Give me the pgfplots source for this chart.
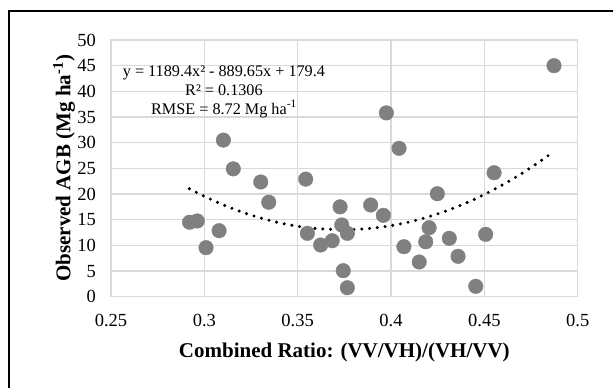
\documentclass[border=0pt]{standalone}
\usepackage{fontspec}
\setmainfont{Liberation Serif}
\usepackage{pgfplots}
\pgfplotsset{compat=1.18}
\usetikzlibrary{calc}
\definecolor{mk}{RGB}{128,128,128}
\definecolor{gr}{RGB}{217,217,217}
\begin{document}
\begin{tikzpicture}[x=1bp,y=1bp]
\begin{axis}[
  scale only axis, width=466.7bp, height=256.7bp,
  xmin=0.25, xmax=0.5, ymin=0, ymax=50,
  xtick={0.25,0.3,0.35,0.4,0.45,0.5},
  xticklabels={0.25,0.3,0.35,0.4,0.45,0.5},
  ytick={0,5,10,15,20,25,30,35,40,45,50},
  yticklabels={0,5,10,15,20,25,30,35,40,45,50},
  major tick length=0pt,
  grid=major,
  major grid style={gr, line width=1.2bp},
  axis line style={gr, line width=1.2bp},
  /pgf/number format/assume math mode=true,
  ticklabel style={font=\fontsize{18.5bp}{22bp}\selectfont, inner sep=0pt},
  xticklabel style={anchor=base, yshift=-29.6bp},
  yticklabel style={anchor=east, xshift=-15bp},
  xlabel={\textbf{Combined Ratio: (VV/VH)/(VH/VV)}},
  ylabel={\textbf{Observed AGB (Mg ha\textsuperscript{-1})}},
  label style={font=\fontsize{21bp}{24bp}\selectfont, inner sep=0pt},
  xlabel style={at={(axis description cs:0.5,-0.2349)}, anchor=base},
  ylabel style={at={(axis description cs:-0.0872,0.5)}, anchor=base},
  clip=false,
]
\addplot[only marks, mark=*, mark size=7.3bp, mark options={draw=mk, fill=mk}] coordinates {
(0.2921,14.5) (0.2962,14.75) (0.3009,9.55) (0.3079,12.86) (0.3102,30.5)
(0.3155,24.9) (0.3302,22.35) (0.3345,18.4) (0.3543,22.9) (0.3552,12.35)
(0.3623,10.07) (0.3685,10.9) (0.3727,17.5) (0.3736,13.97) (0.3766,12.35)
(0.3744,5.07) (0.3766,1.75) (0.3891,17.86) (0.3959,15.85) (0.3975,35.8)
(0.4043,28.9) (0.4069,9.74) (0.4151,6.76) (0.4186,10.7) (0.4204,13.44)
(0.4248,20.06) (0.4312,11.37) (0.4359,7.87) (0.4454,2.02) (0.4507,12.15)
(0.4552,24.15) (0.4873,45.0)
};
\addplot[smooth, black, line width=3.4bp, line cap=round, dash pattern=on 0pt off 7.8bp] coordinates {
(0.292,21.03) (0.30,19.55) (0.31,17.91) (0.32,16.50) (0.33,15.35) (0.34,14.41)
(0.35,13.72) (0.36,13.28) (0.374,13.04) (0.38,13.08) (0.39,13.35) (0.40,13.84)
(0.41,14.58) (0.42,15.56) (0.43,16.77) (0.44,18.22) (0.45,19.91) (0.46,21.84)
(0.47,24.00) (0.48,26.41) (0.487,28.23)
};
\node[font=\fontsize{16.2bp}{19bp}\selectfont, inner sep=0pt] at (axis cs:0.3105,43.57) {y = 1189.4x² - 889.65x + 179.4};
\node[font=\fontsize{16.2bp}{19bp}\selectfont, inner sep=0pt] at (axis cs:0.3105,40.13) {R² = 0.1306};
\node[font=\fontsize{16.2bp}{19bp}\selectfont, inner sep=0pt] at (axis cs:0.3105,36.56) {RMSE = 8.72 Mg ha\textsuperscript{-1}};
\coordinate (sw) at (rel axis cs:0,0);
\end{axis}
\draw[line width=2bp,black] ($(sw)+(-101.7,-120)$) -- ($(sw)+(-101.7,285.7)$) -- ($(sw)+(540,285.7)$);
\pgfresetboundingbox
\useasboundingbox ($(sw)+(-111,-90.3)$) rectangle ($(sw)+(502,296.7)$);
\end{tikzpicture}
\end{document}
